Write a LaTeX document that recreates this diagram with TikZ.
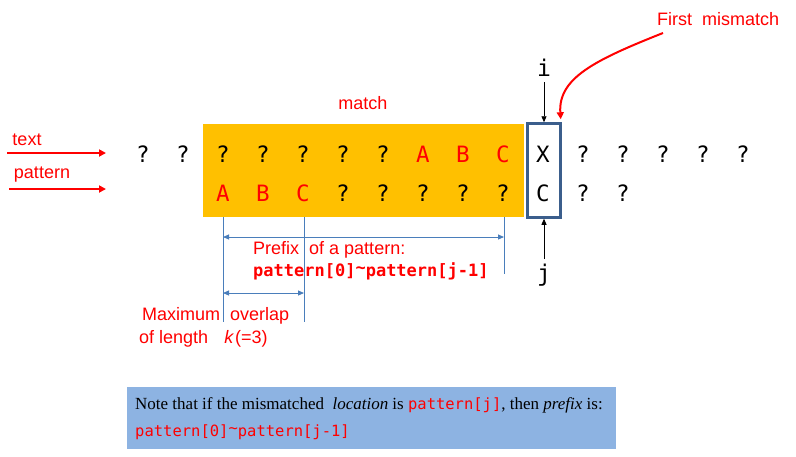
\documentclass[tikz,border=0pt]{standalone}
\usepackage{fontspec}
\usetikzlibrary{arrows.meta}
\newfontfamily\lsans{Liberation Sans}
\newfontfamily\dmono{DejaVu Sans Mono}
\newfontfamily\lserif{Liberation Serif}
\definecolor{matchorange}{HTML}{FFC000}
\definecolor{boxblue}{HTML}{3B5E8C}
\definecolor{dimblue}{HTML}{4A7EBB}
\definecolor{notefill}{HTML}{8DB3E2}
\definecolor{myred}{HTML}{FF0000}
\tikzset{
  chr/.style={font=\dmono\fontsize{22.5}{24}\selectfont, anchor=base, inner sep=0pt},
  redchr/.style={chr, text=myred},
  lbl/.style={font=\lsans\fontsize{18}{20}\selectfont, text=myred, inner sep=0pt},
  redarrow/.style={draw=myred, line width=2pt, -{Triangle[length=7pt,width=7pt]}},
  dimline/.style={draw=dimblue, line width=0.9pt},
  dimarrow/.style={draw=dimblue, line width=0.9pt, {Triangle[length=6pt,width=5pt]}-{Triangle[length=6pt,width=5pt]}},
  ptr/.style={draw=black, line width=0.8pt, -{Triangle[length=6pt,width=5pt]}},
}
\begin{document}
\begin{tikzpicture}[x=1pt,y=-1pt]
\useasboundingbox (0,0) rectangle (796,456);
% match region and mismatch box
\node (mbox) [fill=matchorange, minimum width=321pt, minimum height=93pt, inner sep=0pt] at (363.5,170.5) {};
\node (xbox) [draw=boxblue, line width=2.5pt, minimum width=33pt, minimum height=94pt, inner sep=0pt] at (544,170.5) {};
\node (match) [lbl] at (363,103) {match};
% text row
\foreach \k/\c/\s in {0/?/chr,1/?/chr,2/?/chr,3/?/chr,4/?/chr,5/?/chr,6/?/chr,7/A/redchr,8/B/redchr,9/C/redchr,10/X/chr,11/?/chr,12/?/chr,13/?/chr,14/?/chr,15/?/chr}
  \node (t\k) [\s] at (143+40*\k,162) {\c};
% pattern row
\foreach \k/\c/\s in {2/A/redchr,3/B/redchr,4/C/redchr,5/?/chr,6/?/chr,7/?/chr,8/?/chr,9/?/chr,10/C/chr,11/?/chr,12/?/chr}
  \node (p\k) [\s] at (143+40*\k,201) {\c};
% left labels
\node (textlbl) [lbl] at (27,140) {text};
\node (patlbl) [lbl] at (42,175) {pattern};
\coordinate (ta) at (7,153);
\coordinate (tb) at (106,153);
\coordinate (pa) at (9,189);
\coordinate (pb) at (106,189);
\draw[redarrow] (ta) -- (tb);
\draw[redarrow] (pa) -- (pb);
% i and j
\node (i) [font=\dmono\fontsize{23}{24}\selectfont, inner sep=0pt] at (544,68) {i};
\node (j) [font=\dmono\fontsize{23}{24}\selectfont, inner sep=0pt] at (544,275) {j};
\draw[ptr] (i.south |- 0,82) -- (xbox.north);
\draw[ptr] (j.north |- 0,259) -- (xbox.south);
% first mismatch
\node (fm) [lbl, anchor=west] at (657,19) {First\hspace{10pt}mismatch};
\coordinate (fmstart) at (663,33);
\draw[redarrow] (fmstart) .. controls (595,60) and (558,78) .. ([xshift=-1pt,yshift=3pt]xbox.north east);
% dimension lines
\coordinate (d1a) at (223,217);
\coordinate (d1b) at (223,322);
\coordinate (d2a) at (304,217);
\coordinate (d2b) at (304,322);
\coordinate (d3a) at (504,217);
\coordinate (d3b) at (504,274);
\draw[dimline] (d1a) -- (d1b);
\draw[dimline] (d2a) -- (d2b);
\draw[dimline] (d3a) -- (d3b);
\coordinate (pr1) at (223,237);
\coordinate (pr2) at (504,237);
\coordinate (ov1) at (223,293);
\coordinate (ov2) at (304,293);
\draw[dimarrow] (pr1) -- (pr2);
\draw[dimarrow] (ov1) -- (ov2);
\node (prefix) [lbl, anchor=west] at (253,250) {Prefix\hspace{10pt}of\ a\ pattern:};
\node (prefcode) [anchor=west, inner sep=0pt, text=myred, font=\dmono\bfseries\fontsize{17}{20}\selectfont] at (253,271) {pattern[0]\raisebox{0.15em}{\char`\~}pattern[j-1]};
\node (maxov) [lbl, anchor=west] at (142,316) {Maximum\hspace{10pt}overlap};
\node (oflen) [lbl, anchor=west] at (139,339) {of\ length\hspace{16pt}\textit{k}\hspace{1pt}(=3)};
% note box
\node (note) [fill=notefill, minimum width=489pt, minimum height=62pt, inner sep=0pt] at (371.5,418) {};
\node (note1) [anchor=west, inner sep=0pt, font=\lserif\fontsize{17}{20}\selectfont] at (135,405)
  {Note that if the mismatched \ \textit{location} is {\dmono\fontsize{15.5}{18}\selectfont\color{myred}pattern[j]}, then \textit{prefix} is:};
\node (note2) [anchor=west, inner sep=0pt, text=myred, font=\dmono\fontsize{15.5}{18}\selectfont] at (135,432) {pattern[0]\raisebox{0.15em}{\char`\~}pattern[j-1]};
\end{tikzpicture}
\end{document}
